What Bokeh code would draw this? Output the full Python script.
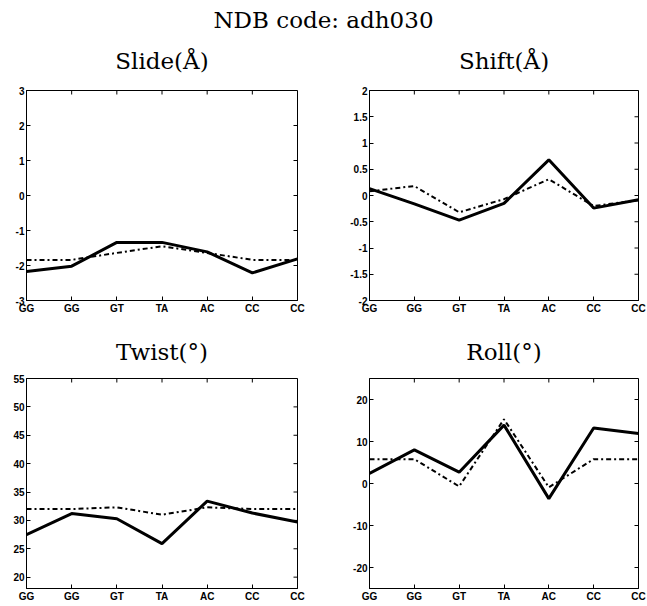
import math
from bokeh.plotting import figure
from bokeh.layouts import gridplot, column
from bokeh.models import Div, FixedTicker, Range1d, Title
from bokeh.embed import file_html
from bokeh.resources import INLINE

suptitle = "NDB code: adh030"
steps = ["GG", "GG", "GT", "TA", "AC", "CC", "CC"]
idx = list(range(len(steps)))

slide_a = [-2.17, -2.02, -1.34, -1.34, -1.61, -2.21, -1.81]
slide_b = [-1.84, -1.84, -1.64, -1.45, -1.64, -1.84, -1.84]
shift_a = [0.13, -0.16, -0.47, -0.15, 0.68, -0.24, -0.08]
shift_b = [0.08, 0.18, -0.32, -0.07, 0.31, -0.20, -0.09]
twist_a = [27.5, 31.2, 30.3, 25.9, 33.4, 31.3, 29.7]
twist_b = [32.0, 32.0, 32.3, 31.0, 32.3, 32.0, 32.0]
roll_a = [2.4, 8.0, 2.7, 13.9, -3.6, 13.2, 11.9]
roll_b = [5.8, 5.8, -0.7, 15.3, -0.9, 5.8, 5.8]

panels = [
    ("Slide(Å)", slide_a, slide_b, (-3, 3), [-3, -2, -1, 0, 1, 2, 3]),
    ("Shift(Å)", shift_a, shift_b, (-2, 2), [-2, -1.5, -1, -0.5, 0, 0.5, 1, 1.5, 2]),
    ("Twist(°)", twist_a, twist_b, (18, 55), [20, 25, 30, 35, 40, 45, 50, 55]),
    ("Roll(°)", roll_a, roll_b, (-25, 25), [-20, -10, 0, 10, 20]),
]

SERIF = "DejaVu Serif"
SANS = "Liberation Sans"


def style_axis(ax, ticks):
    ax.ticker = FixedTicker(ticks=ticks)
    ax.major_tick_in = 4
    ax.major_tick_out = 0
    ax.minor_tick_in = 0
    ax.minor_tick_out = 0
    ax.axis_line_color = "black"
    ax.major_tick_line_color = "black"
    ax.major_label_standoff = 2
    ax.major_label_text_font = SANS
    ax.major_label_text_font_size = "10px"
    ax.major_label_text_font_style = "bold"
    ax.major_label_text_color = "black"


figs = []
for i, (ttl, a, b, yr, yt) in enumerate(panels):
    col = i % 2
    row = i // 2
    fw = 271 if col == 0 else 269
    fh = 212
    bl = 26 if col == 0 else 28
    br = 44 if col == 0 else 9
    bt = 70 if row == 0 else 62
    bb = 14
    so = 34 if row == 0 else 27
    p = figure(width=fw + bl + br, height=fh + bt + bb,
               x_range=Range1d(0, 6), y_range=Range1d(*yr),
               output_backend="svg", toolbar_location=None,
               min_border_left=bl, min_border_right=br,
               min_border_top=bt, min_border_bottom=bb)
    p.title = Title(text=ttl, align="center", text_font=SERIF,
                    text_font_size="23px", text_font_style="normal",
                    text_color="black", standoff=so)
    p.xgrid.visible = False
    p.ygrid.visible = False
    p.outline_line_color = "black"
    p.background_fill_color = "white"
    p.border_fill_color = "white"
    p.line(idx, a, line_color="black", line_width=3)
    p.line(idx, b, line_color="black", line_width=2, line_dash="5 3 2 3")
    style_axis(p.xaxis[0], idx)
    p.xaxis[0].major_label_overrides = {k: s for k, s in zip(idx, steps)}
    style_axis(p.yaxis[0], yt)
    p.yaxis[0].major_label_overrides = {t: "%g" % t for t in yt}
    # inward ticks on the top and right edges of the box
    p.ray(x=idx, y=[yr[1]] * len(idx), length=4, length_units="screen",
          angle=-math.pi / 2, line_color="black", line_width=1)
    p.ray(x=[idx[-1]] * len(yt), y=yt, length=4, length_units="screen",
          angle=math.pi, line_color="black", line_width=1)
    figs.append(p)

div = Div(text='<div style="font-family: \'DejaVu Serif\', serif; font-size: 23px; '
               'text-align: center; width: 647px; color: black; line-height: 24px; '
               'position: relative; top: 8px; z-index: 10;">'
               + suptitle + '</div>',
          width=647, height=20, margin=0,
          styles={"overflow": "visible", "z-index": "10"})

grid = gridplot([[figs[0], figs[1]], [figs[2], figs[3]]], toolbar_location=None)
layout = column(div, grid)

open("out.html", "w").write(file_html(layout, INLINE))
